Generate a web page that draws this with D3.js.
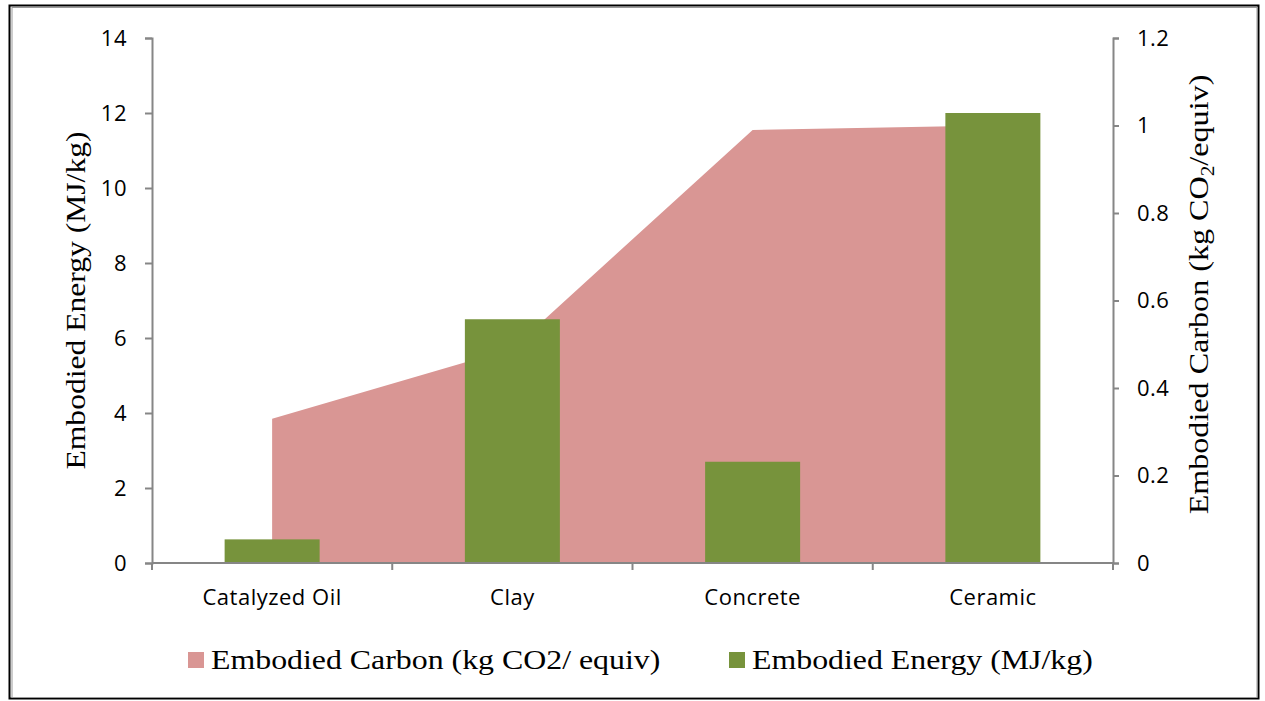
<!DOCTYPE html>
<html><head><meta charset="utf-8">
<script src="https://cdn.jsdelivr.net/npm/d3@7"></script>
<style>body{margin:0;background:#fff;} svg{display:block;}</style>
</head><body>
<script>
const categories = ["Catalyzed Oil", "Clay", "Concrete", "Ceramic"];
const energyValues = [0.63, 6.5, 2.7, 12];          // MJ/kg (left axis, bars)
const carbonValues = [0.33, 0.49, 0.99, 1.0];        // kg CO2/equiv (right axis, area)
const leftTicks = [0, 2, 4, 6, 8, 10, 12, 14];
const rightTicks = [0, 0.2, 0.4, 0.6, 0.8, 1, 1.2];
const seriesNames = ["Embodied Carbon (kg CO2/ equiv)", "Embodied Energy (MJ/kg)"];

const W = 1265, H = 701;
const svg = d3.select("body").append("svg").attr("width", W).attr("height", H);

// frame
svg.append("rect").attr("x", 9.5).attr("y", 5.5).attr("width", 1249).attr("height", 693)
  .attr("fill", "none").attr("stroke", "#000").attr("stroke-width", 2);
svg.append("rect").attr("x", 12).attr("y", 7.5).attr("width", 1245).attr("height", 690)
  .attr("fill", "none").attr("stroke", "#999").attr("stroke-width", 1);

const x0 = 152, x1 = 1113, yTop = 38, yBot = 563;
const x = d3.scaleBand().domain(categories).range([x0, x1]).paddingInner(0).paddingOuter(0);
const yL = d3.scaleLinear().domain([0, 14]).range([yBot, yTop]);
const yR = d3.scaleLinear().domain([0, 1.2]).range([yBot, yTop]);
const cx = c => x(c) + x.bandwidth() / 2;

// area (carbon)
const area = d3.area().x((d, i) => cx(categories[i])).y0(yR(0)).y1(d => yR(d));
svg.append("path").datum(carbonValues).attr("d", area).attr("fill", "#D99694");

// bars (energy)
const bw = 95;
svg.selectAll("rect.bar").data(energyValues).enter().append("rect")
  .attr("class", "bar")
  .attr("x", (d, i) => cx(categories[i]) - bw / 2)
  .attr("width", bw)
  .attr("y", d => yL(d))
  .attr("height", d => yL(0) - yL(d))
  .attr("fill", "#77933C");

const axisColor = "#868686";
const tickFont = "'Open Sans', sans-serif";

// left axis
const gl = svg.append("g").attr("transform", `translate(${x0},0)`)
  .call(d3.axisLeft(yL).tickValues(leftTicks).tickSize(7).tickPadding(18).tickFormat(d3.format("d")));
// right axis
const gr = svg.append("g").attr("transform", `translate(${x1},0)`)
  .call(d3.axisRight(yR).tickValues(rightTicks).tickSize(6).tickPadding(18).tickFormat(d => d === 0 ? "0" : (d === 1 ? "1" : d3.format(".1f")(d))));
// bottom axis
const gb = svg.append("g").attr("transform", `translate(0,${yBot})`)
  .call(d3.axisBottom(x).tickSize(0).tickPadding(26));
[gl, gr, gb].forEach(g => {
  g.select(".domain").attr("stroke", axisColor).attr("stroke-width", 2);
  g.selectAll("line").attr("stroke", axisColor).attr("stroke-width", 2);
  g.selectAll("text").attr("fill", "#000").style("font-family", tickFont).style("font-size", "22px")
    .style("letter-spacing", "0.5px");
});
gb.select(".domain").attr("d", `M${x0},0H${x1}`);
// category boundary ticks
const bounds = categories.map(c => x(c)).concat([x1]);
svg.append("g").selectAll("line").data(bounds).enter().append("line")
  .attr("x1", d => d).attr("x2", d => d).attr("y1", yBot).attr("y2", yBot + 7)
  .attr("stroke", axisColor).attr("stroke-width", 2);

const serif = "'Liberation Serif', 'Times New Roman', serif";
const sx = 1.17;
// left axis title
svg.append("text").attr("transform", `translate(85,${(yTop + yBot) / 2}) rotate(-90) scale(${sx},1)`)
  .attr("text-anchor", "middle").style("font-family", serif).style("font-size", "27px")
  .text("Embodied Energy (MJ/kg)");
// right axis title with subscript
const rt = svg.append("text").attr("transform", `translate(1208,${(yTop + yBot) / 2 - 6}) rotate(-90) scale(${sx + 0.02},1)`)
  .attr("text-anchor", "middle").style("font-family", serif).style("font-size", "27px");
rt.append("tspan").text("Embodied Carbon (kg CO");
rt.append("tspan").attr("dy", 6).style("font-size", "18px").text("2");
rt.append("tspan").attr("dy", -6).text("/equiv)");

// legend
const legend = [
  { name: seriesNames[0], color: "#D99694", x: 188 },
  { name: seriesNames[1], color: "#77933C", x: 729 }
];
const lg = svg.append("g").selectAll("g").data(legend).enter().append("g")
  .attr("transform", d => `translate(${d.x},652)`);
lg.append("rect").attr("width", 16).attr("height", 16).attr("fill", d => d.color);
lg.append("text").attr("transform", `translate(23,17) scale(${sx + 0.01},1)`)
  .style("font-family", serif).style("font-size", "27px")
  .attr("fill", "#000").text(d => d.name);
</script>
</body></html>
